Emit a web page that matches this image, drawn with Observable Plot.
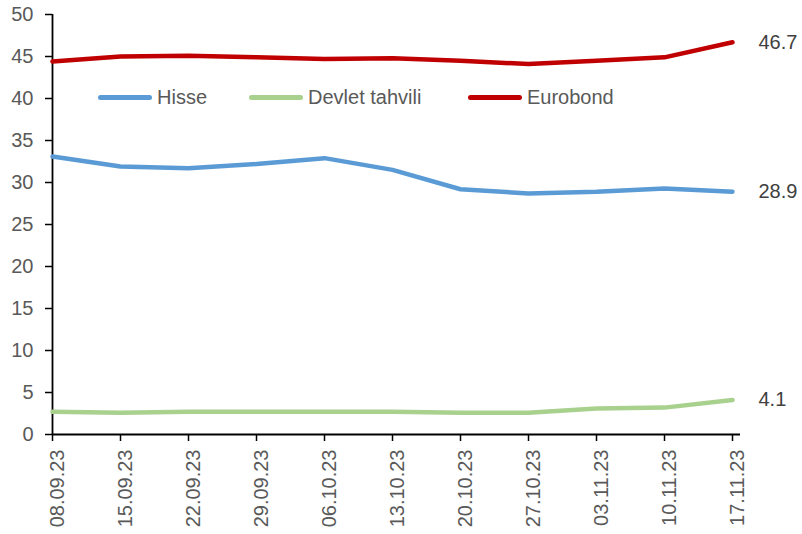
<!DOCTYPE html>
<html>
<head>
<meta charset="utf-8">
<script src="https://cdn.jsdelivr.net/npm/d3@7"></script>
<script src="https://cdn.jsdelivr.net/npm/@observablehq/plot@0.6"></script>
<style>
  html, body { margin: 0; padding: 0; background: #fff; }
  #wrap { position: relative; width: 802px; height: 534px; font-family: "Liberation Sans", Arial, sans-serif; }
  .legend-item { position: absolute; top: 86px; display: flex; align-items: center; font-size: 20px; color: #595959; white-space: nowrap; }
  .legend-item .sw { width: 54px; height: 5px; border-radius: 3px; margin-right: 5px; }
</style>
</head>
<body>
<div id="wrap"></div>
<script>
// Weekly dates
const dates = ["08.09.23", "15.09.23", "22.09.23", "29.09.23", "06.10.23", "13.10.23",
               "20.10.23", "27.10.23", "03.11.23", "10.11.23", "17.11.23"];

// Series values
const hisse         = [33.1, 31.9, 31.7, 32.2, 32.9, 31.5, 29.2, 28.7, 28.9, 29.3, 28.9];
const devletTahvili = [2.7, 2.6, 2.7, 2.7, 2.7, 2.7, 2.6, 2.6, 3.1, 3.2, 4.1];
const eurobond      = [44.4, 45.0, 45.1, 44.9, 44.7, 44.8, 44.5, 44.1, 44.5, 44.9, 46.7];

const seriesNames  = ["Hisse", "Devlet tahvili", "Eurobond"];
const seriesColors = ["#5B9BD5", "#A9D18E", "#C00000"];
const yTicks = [0, 5, 10, 15, 20, 25, 30, 35, 40, 45, 50];

const seriesValues = [hisse, devletTahvili, eurobond];
const rows = seriesNames.flatMap((name, i) =>
  dates.map((d, j) => ({series: name, date: d, value: seriesValues[i][j]})));
const lastRows = seriesNames.map((name, i) =>
  ({series: name, date: dates[dates.length - 1], value: seriesValues[i][dates.length - 1]}));

const chart = Plot.plot({
  width: 802,
  height: 534,
  marginLeft: 52,
  marginRight: 62,
  marginTop: 14,
  marginBottom: 100,
  style: {fontFamily: "Liberation Sans, Arial, sans-serif", fontSize: "20px", background: "#fff", color: "#595959"},
  x: {type: "point", domain: dates, padding: 0, insetRight: 8},
  y: {domain: [0, 50]},
  color: {domain: seriesNames, range: seriesColors},
  marks: [
    Plot.axisY({ticks: yTicks, tickSize: 7, tickPadding: 12, stroke: "#000", strokeWidth: 1.5, fill: "#595959", label: null}),
    // tick marks of the date axis
    Plot.axisX({tickSize: 7, tickFormat: () => "", stroke: "#000", strokeWidth: 1.5, label: null}),
    // rotated date labels
    Plot.axisX({tickSize: 0, tickPadding: 15, tickRotate: -90, dx: 5, fill: "#595959", label: null}),
    Plot.ruleX([dates[0]], {stroke: "#000", strokeWidth: 1.8}),
    Plot.ruleY([0], {stroke: "#000", strokeWidth: 1.8}),
    Plot.line(rows, {x: "date", y: "value", z: "series", stroke: "series", strokeWidth: 4.5, strokeLinecap: "round", strokeLinejoin: "round"}),
    Plot.text(lastRows, {x: "date", y: "value", text: d => d3.format(".1f")(d.value), dx: 26, textAnchor: "start", fill: "#404040", fontSize: 20})
  ]
});

const wrap = document.getElementById("wrap");
wrap.appendChild(chart);

// Legend placed over the plot area
const legendLeft = [98, 249, 468];
seriesNames.forEach((name, i) => {
  const item = document.createElement("div");
  item.className = "legend-item";
  item.style.left = legendLeft[i] + "px";
  const sw = document.createElement("span");
  sw.className = "sw";
  sw.style.background = seriesColors[i];
  const label = document.createElement("span");
  label.textContent = name;
  item.appendChild(sw);
  item.appendChild(label);
  wrap.appendChild(item);
});
</script>
</body>
</html>
